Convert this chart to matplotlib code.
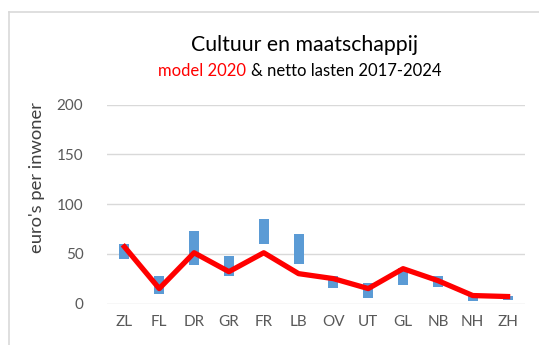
import matplotlib
matplotlib.use("Agg")
import matplotlib.pyplot as plt
from matplotlib.lines import Line2D

plt.rcParams['font.family'] = ['Lato', 'DejaVu Sans']

# provinces
provinces = ["ZL", "FL", "DR", "GR", "FR", "LB", "OV", "UT", "GL", "NB", "NH", "ZH"]
# netto lasten 2017-2024: lowest and highest value per province
lasten_min = [45, 10, 39, 28, 60, 40, 16, 6, 19, 17, 3, 4]
lasten_max = [60, 28, 73, 48, 85, 70, 28, 21, 36, 28, 10, 8]
# model 2020
model_2020 = [57, 15, 51, 32, 51, 30, 25, 15, 35, 23, 8, 7]

W, H = 539, 345
fig = plt.figure(figsize=(W / 100, H / 100), dpi=100)

# chart border (left and top edges visible)
fig.add_artist(Line2D([9 / W, 9 / W], [0, 1 - 12 / H], transform=fig.transFigure,
                      color="#d9d9d9", lw=1.2))
fig.add_artist(Line2D([9 / W, 1], [1 - 12 / H, 1 - 12 / H], transform=fig.transFigure,
                      color="#d9d9d9", lw=1.2))

ax = fig.add_axes([107 / W, (H - 303.5) / H, 418 / W, 199 / H])

x = list(range(len(provinces)))
heights = [hi - lo for lo, hi in zip(lasten_min, lasten_max)]
ax.bar(x, heights, bottom=lasten_min, width=0.29, color="#5b9bd5", zorder=2)
ax.plot(x, model_2020, color="#ff0000", lw=3.8, zorder=3, solid_joinstyle="round")

ax.set_xlim(-0.5, len(provinces) - 0.5)
ax.set_ylim(0, 200)
ax.set_yticks(range(0, 201, 50))
ax.set_xticks(x)
ax.set_xticklabels(provinces)
ax.yaxis.grid(True, color="#d9d9d9", lw=1)
ax.set_axisbelow(True)
for s in ax.spines.values():
    s.set_visible(False)
ax.tick_params(length=0, colors="#595959", labelsize=11)
ax.tick_params(axis="y", pad=17)
ax.tick_params(axis="x", pad=8)
ax.set_ylabel("euro's per inwoner", fontsize=13.2, color="#404040")
ax.yaxis.set_label_coords((45 - 107) / 418, (303.5 - 178) / 199)

fig.text(305 / W, 1 - 45 / H, "Cultuur en maatschappij", ha="center", va="center",
         fontsize=15.3, color="#000000")
fig.text(246 / W, 1 - 71 / H, "model 2020", ha="right", va="center",
         fontsize=12, color="#ff0000")
fig.text(251 / W, 1 - 71 / H, "& netto lasten 2017-2024", ha="left", va="center",
         fontsize=12, color="#000000")

fig.savefig("out.png", dpi=100)
